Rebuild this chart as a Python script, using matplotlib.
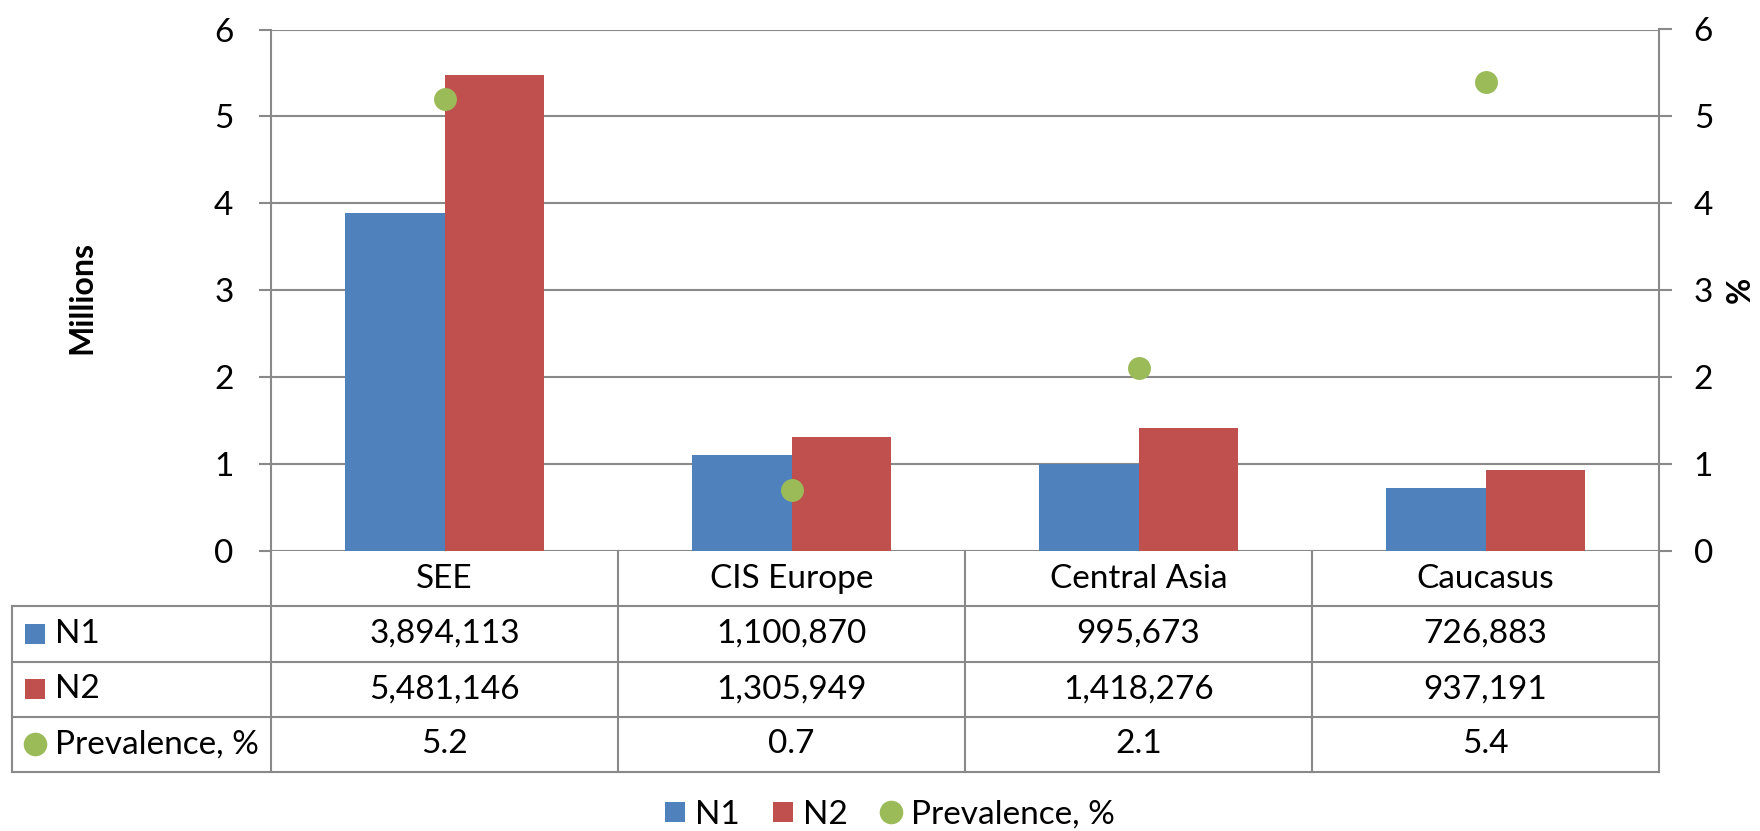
import matplotlib
matplotlib.use("Agg")
import matplotlib.pyplot as plt
from matplotlib.lines import Line2D
import numpy as np

plt.rcParams['font.family'] = ['Lato', 'DejaVu Sans']

# ---- data ----
regions = ["SEE", "CIS Europe", "Central Asia", "Caucasus"]
n1 = [3894113, 1100870, 995673, 726883]
n2 = [5481146, 1305949, 1418276, 937191]
prevalence = [5.2, 0.7, 2.1, 5.4]
left_ticks = [0, 1, 2, 3, 4, 5, 6]
right_ticks = [0, 1, 2, 3, 4, 5, 6]
series_names = ["N1", "N2", "Prevalence, %"]

# ---- style ----
W, H = 1760, 831
C_N1 = "#4F81BD"
C_N2 = "#C0504D"
C_PREV = "#9BBB59"
GRID = "#898989"
FS = 24
LW = 1.5

fig = plt.figure(figsize=(W / 100, H / 100), dpi=100)

# plot area in pixel layout
px_left, px_right = 271, 1659
px_top, px_zero = 29.5, 551
px_table_bottom = 772
px_table_left = 12
span = px_right - px_left

ax = fig.add_axes([px_left / W, 1 - px_zero / H,
                   span / W, (px_zero - px_top) / H])
x = np.arange(len(regions))
bw = 1 / 3.5  # gap width 150%
ax.bar(x - bw / 2, np.array(n1) / 1e6, width=bw, color=C_N1, zorder=2)
ax.bar(x + bw / 2, np.array(n2) / 1e6, width=bw, color=C_N2, zorder=2)
ax.set_xlim(-0.5, len(regions) - 0.5)
ax.set_ylim(0, 6)
ax.set_yticks(left_ticks)
ax.set_yticklabels([str(t) for t in left_ticks])
ax.set_xticks([])
ax.set_axisbelow(True)
ax.yaxis.grid(True, color=GRID, linewidth=LW)
for s in ["top", "bottom", "right"]:
    ax.spines[s].set_visible(False)
ax.spines["left"].set_color(GRID)
ax.spines["left"].set_linewidth(LW)
ax.tick_params(axis="y", length=9, width=LW, color=GRID, labelsize=FS, pad=18,
               direction="out")
ax.set_ylabel("Millions", fontsize=FS - 1, fontweight="bold")
ax.yaxis.set_label_coords((96 - px_left) / span, (px_zero - 298) / (px_zero - px_top))

ax2 = ax.twinx()
ax2.plot(x, prevalence, linestyle="none", marker="o", markersize=16.5,
         color=C_PREV, markeredgewidth=0, clip_on=False, zorder=3)
ax2.set_ylim(0, 6)
ax2.set_yticks(right_ticks)
ax2.set_yticklabels([str(t) for t in right_ticks])
for s in ["top", "bottom", "left"]:
    ax2.spines[s].set_visible(False)
ax2.spines["right"].set_color(GRID)
ax2.spines["right"].set_linewidth(LW)
ax2.tick_params(axis="y", length=9, width=LW, color=GRID, labelsize=FS, pad=16,
                direction="out")
ax2.set_ylabel("%", fontsize=FS - 1, fontweight="bold")
ax2.yaxis.set_label_coords((1726 - px_left) / span, 0.5)

# ---- data table below the plot ----
tax = fig.add_axes([px_left / W, 1 - px_table_bottom / H,
                    span / W, (px_table_bottom - px_zero) / H],
                   sharex=ax)
tax.set_ylim(4, 0)
tax.axis("off")
xl = -0.5 - (px_left - px_table_left) / span * len(regions)
xr = len(regions) - 0.5
line_kw = dict(color=GRID, linewidth=LW, clip_on=False)
for k in range(len(regions) + 1):
    tax.plot([k - 0.5, k - 0.5], [0, 4], **line_kw)
for r in range(1, 5):
    tax.plot([xl, xr], [r, r], **line_kw)
tax.plot([xl, xl], [1, 4], **line_kw)

for i, name in enumerate(regions):
    tax.text(i, 0.5, name, ha="center", va="center", fontsize=FS)
rows = [
    [f"{v:,}" for v in n1],
    [f"{v:,}" for v in n2],
    [f"{v:.1f}" for v in prevalence],
]
for r, vals in enumerate(rows, start=1):
    for i, s in enumerate(vals):
        tax.text(i, r + 0.5, s, ha="center", va="center", fontsize=FS)

unit = span / len(regions)
key_x = xl + (34.5 - px_table_left) / unit
text_x = xl + (55 - px_table_left) / unit
key_styles = [("s", C_N1, 15), ("s", C_N2, 15), ("o", C_PREV, 17)]
for r, (name, (m, c, ms)) in enumerate(zip(series_names, key_styles), start=1):
    tax.plot([key_x], [r + 0.5], marker=m, color=c, markersize=ms,
             markeredgewidth=0, linestyle="none", clip_on=False)
    tax.text(text_x, r + 0.5, name, ha="left", va="center", fontsize=FS)

# ---- legend ----
handles = [
    Line2D([], [], linestyle="none", marker="s", markersize=15, color=C_N1, markeredgewidth=0),
    Line2D([], [], linestyle="none", marker="s", markersize=15, color=C_N2, markeredgewidth=0),
    Line2D([], [], linestyle="none", marker="o", markersize=17, color=C_PREV, markeredgewidth=0),
]
fig.legend(handles, series_names, loc="center", bbox_to_anchor=(890 / W, 1 - 815 / H),
           ncol=3, frameon=False, fontsize=FS, handlelength=0.6,
           handletextpad=0.3, columnspacing=1.0, borderaxespad=0, borderpad=0)

fig.savefig("out.png", dpi=100, facecolor="white")
